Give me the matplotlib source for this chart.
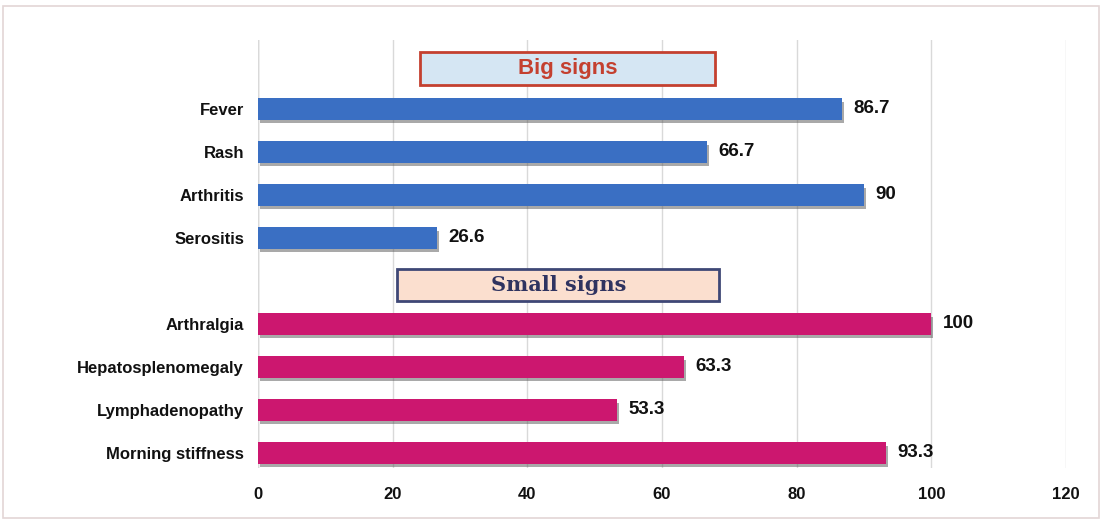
import matplotlib
matplotlib.use("Agg")
import matplotlib.pyplot as plt
from matplotlib.patches import Rectangle
import matplotlib.patheffects as pe

big_labels = ["Fever", "Rash", "Arthritis", "Serositis"]
big_values = [86.7, 66.7, 90, 26.6]
small_labels = ["Arthralgia", "Hepatosplenomegaly", "Lymphadenopathy", "Morning stiffness"]
small_values = [100, 63.3, 53.3, 93.3]
x_ticks = [0, 20, 40, 60, 80, 100, 120]

blue = "#3a6fc3"
magenta = "#cc176f"

fig = plt.figure(figsize=(11.02, 5.21), dpi=100)
ax = fig.add_axes([258 / 1102, 1 - 468 / 521, (1066 - 258) / 1102, (468 - 40) / 521])

big_pos = [0, 1, 2, 3]
small_pos = [5, 6, 7, 8]

shadow = [pe.SimplePatchShadow(offset=(1.5, -2.5), shadow_rgbFace="#555555", alpha=0.5), pe.Normal()]
b1 = ax.barh(big_pos, big_values, height=0.5, color=blue, zorder=3)
b2 = ax.barh(small_pos, small_values, height=0.5, color=magenta, zorder=3)
for bar in list(b1) + list(b2):
    bar.set_path_effects(shadow)

for p, v in zip(big_pos + small_pos, big_values + small_values):
    ax.text(v + 1.7, p, f"{v:g}", va="center", ha="left", fontsize=13.5,
            fontweight="bold", family="Liberation Sans", color="#111111")

ax.set_yticks(big_pos + small_pos)
ax.set_yticklabels(big_labels + small_labels, fontsize=12, fontweight="bold",
                   family="Liberation Sans", color="#111111")
ax.set_ylim(8.35, -1.6)
ax.set_xlim(0, 120)
ax.set_xticks(x_ticks)
ax.set_xticklabels([str(t) for t in x_ticks], fontsize=12, fontweight="bold",
                   family="Liberation Sans", color="#111111")
ax.tick_params(axis="both", length=0)
ax.tick_params(axis="x", pad=14)
ax.tick_params(axis="y", pad=10)
ax.grid(axis="x", color="#d9d9d9", linewidth=1.0, zorder=0)
for s in ax.spines.values():
    s.set_visible(False)
ax.axvline(0, color="#bfbfbf", linewidth=1.0, zorder=1)

# Section header boxes
ax.add_patch(Rectangle((24.1, -1.33), 43.7, 0.78, facecolor="#d5e6f3",
                       edgecolor="#c4402f", linewidth=2, zorder=4))
ax.text((24.1 + 67.8) / 2, -0.94, "Big signs", ha="center", va="center",
        fontsize=16, fontweight="bold", family="Liberation Sans", color="#c4402f", zorder=5)
ax.add_patch(Rectangle((20.7, 3.72), 47.8, 0.74, facecolor="#fbdfcf",
                       edgecolor="#3e4776", linewidth=2, zorder=4))
ax.text((20.7 + 68.5) / 2, 4.1, "Small signs", ha="center", va="center",
        fontsize=15, fontweight="bold", family="DejaVu Serif", color="#2f3360", zorder=5)

# Outer frame
fig.patches.append(Rectangle((3 / 1102, 3 / 521), 1096 / 1102, 512 / 521,
                             transform=fig.transFigure, fill=False,
                             edgecolor="#e3d6d6", linewidth=1.2))

fig.savefig("out.png", dpi=100)
